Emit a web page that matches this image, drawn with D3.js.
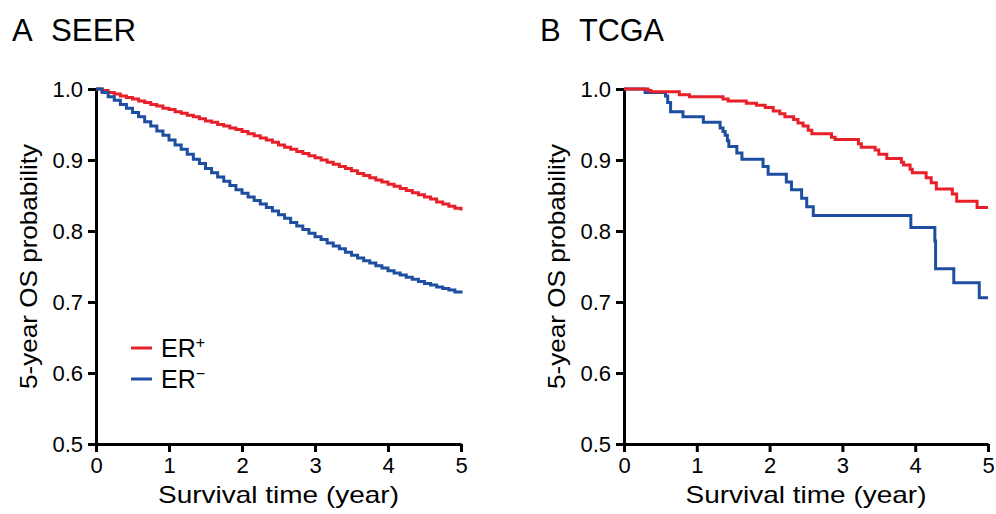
<!DOCTYPE html>
<html>
<head>
<meta charset="utf-8">
<script src="https://cdn.jsdelivr.net/npm/d3@7"></script>
<style>
  body { margin: 0; background: #fff; }
  svg text { font-family: "Liberation Sans", Arial, sans-serif; fill: #000; }
</style>
</head>
<body>
<svg id="chart" width="996" height="514"></svg>
<script>
// SEER: monthly survival estimates, month 0..60
const seerMonths = d3.range(0, 61).map(m => m / 12);
const seerPos = [
  1.000, 0.998, 0.995, 0.993, 0.990, 0.988, 0.986, 0.983, 0.981, 0.978, 0.976, 0.973, 0.971,
  0.968, 0.966, 0.963, 0.961, 0.958, 0.955, 0.953, 0.950, 0.948, 0.945, 0.943, 0.940,
  0.937, 0.934, 0.931, 0.928, 0.925, 0.921, 0.918, 0.915, 0.912, 0.909, 0.906, 0.903,
  0.900, 0.897, 0.894, 0.891, 0.888, 0.885, 0.881, 0.878, 0.875, 0.872, 0.869, 0.866,
  0.863, 0.860, 0.857, 0.854, 0.851, 0.848, 0.845, 0.841, 0.838, 0.835, 0.832, 0.829
];
const seerNeg = [
  1.000, 0.995, 0.989, 0.984, 0.978, 0.973, 0.967, 0.961, 0.954, 0.948, 0.941, 0.935, 0.928,
  0.921, 0.915, 0.908, 0.901, 0.895, 0.888, 0.882, 0.876, 0.870, 0.864, 0.858, 0.853,
  0.848, 0.843, 0.838, 0.833, 0.828, 0.823, 0.818, 0.812, 0.807, 0.802, 0.797, 0.792,
  0.788, 0.783, 0.779, 0.775, 0.770, 0.766, 0.762, 0.758, 0.755, 0.751, 0.748, 0.744,
  0.741, 0.738, 0.735, 0.732, 0.729, 0.726, 0.724, 0.721, 0.719, 0.717, 0.714, 0.712
];

// TCGA: Kaplan-Meier step times (years) and survival after each step
const tcgaPosTimes = [0, 0.33, 0.37, 0.76, 0.90, 1.36, 1.43, 1.68, 1.82, 1.94, 2.05, 2.14, 2.21, 2.33,
  2.39, 2.46, 2.53, 2.58, 2.85, 2.90, 3.22, 3.26, 3.45, 3.50, 3.61, 3.81, 3.84, 3.93, 3.96,
  4.15, 4.22, 4.29, 4.51, 4.57, 4.85, 5.0];
const tcgaPosSurv = [1.000, 0.998, 0.996, 0.992, 0.989, 0.986, 0.983, 0.980, 0.977, 0.974, 0.969, 0.965, 0.961, 0.957,
  0.952, 0.948, 0.942, 0.937, 0.932, 0.929, 0.923, 0.918, 0.914, 0.908, 0.902, 0.897, 0.893, 0.887, 0.882,
  0.875, 0.868, 0.859, 0.852, 0.842, 0.833, 0.833];
const tcgaNegTimes = [0, 0.29, 0.57, 0.60, 0.64, 0.81, 1.09, 1.32, 1.36, 1.39, 1.42, 1.44, 1.55, 1.62,
  1.91, 1.98, 2.23, 2.30, 2.44, 2.51, 2.60, 3.94, 4.27, 4.28, 4.53, 4.88, 5.0];
const tcgaNegSurv = [1.000, 0.995, 0.990, 0.981, 0.968, 0.961, 0.953, 0.945, 0.940, 0.935, 0.927, 0.919, 0.910, 0.901,
  0.891, 0.880, 0.869, 0.858, 0.846, 0.834, 0.822, 0.805, 0.786, 0.747, 0.727, 0.706, 0.706];

const xTicks = [0, 1, 2, 3, 4, 5];
const yTicks = [0.5, 0.6, 0.7, 0.8, 0.9, 1.0];
const colPos = "#e8202a";
const colNeg = "#1d4ea0";

const svg = d3.select("#chart");

let drawPanel = (left, right, letter, name, series, showLegend) => {
  const top = 89, bottom = 444;
  const x = d3.scaleLinear().domain([0, 5]).range([left, right]);
  const y = d3.scaleLinear().domain([0.5, 1.0]).range([bottom, top]);

  // axes
  const xAxis = svg.append("g")
    .attr("transform", `translate(0,${bottom})`)
    .call(d3.axisBottom(x).tickValues(xTicks).tickSize(8).tickSizeOuter(0).tickPadding(4).tickFormat(d3.format("d")));
  const yAxis = svg.append("g")
    .attr("transform", `translate(${left},0)`)
    .call(d3.axisLeft(y).tickValues(yTicks).tickSize(8).tickSizeOuter(0).tickPadding(5).tickFormat(d3.format(".1f")));

  [xAxis, yAxis].forEach(a => {
    a.select(".domain").attr("stroke", "#000").attr("stroke-width", 3);
    a.selectAll(".tick line").attr("stroke", "#000").attr("stroke-width", 3);
    a.selectAll(".tick text").style("font-size", "22px").attr("fill", "#000");
  });
  xAxis.selectAll(".tick text").attr("dy", "0.75em");

  // curves
  const line = d3.line()
    .x(d => x(d[0]))
    .y(d => y(d[1]))
    .curve(d3.curveStepAfter);

  series.forEach(s => {
    svg.append("path")
      .datum(s.points)
      .attr("fill", "none")
      .attr("stroke", s.color)
      .attr("stroke-width", 3)
      .attr("d", line);
  });

  // panel title
  svg.append("text")
    .attr("x", left - 84)
    .attr("y", 41)
    .style("font-size", "31px")
    .text(letter);
  svg.append("text")
    .attr("x", left - 45)
    .attr("y", 41)
    .attr("textLength", 85)
    .attr("lengthAdjust", "spacingAndGlyphs")
    .style("font-size", "31px")
    .text(name);

  // axis titles
  svg.append("text")
    .attr("x", (left + right) / 2)
    .attr("y", 503)
    .attr("text-anchor", "middle")
    .attr("textLength", 241)
    .attr("lengthAdjust", "spacingAndGlyphs")
    .style("font-size", "24px")
    .text("Survival time (year)");
  svg.append("text")
    .attr("transform", `translate(${left - 59},${(top + bottom) / 2}) rotate(-90)`)
    .attr("text-anchor", "middle")
    .attr("textLength", 245)
    .attr("lengthAdjust", "spacingAndGlyphs")
    .style("font-size", "24px")
    .text("5-year OS probability");

  if (showLegend) {
    const lg = svg.append("g");
    series.forEach((s, i) => {
      const ly = 348 + i * 31;
      lg.append("line")
        .attr("x1", left + 35).attr("x2", left + 56)
        .attr("y1", ly).attr("y2", ly)
        .attr("stroke", s.color).attr("stroke-width", 3);
      const t = lg.append("text")
        .attr("x", left + 65)
        .attr("y", ly + 9)
        .style("font-size", "25px");
      t.append("tspan").text("ER");
      t.append("tspan").attr("dy", -9).style("font-size", "16px").text(s.sign);
    });
  }
};

const seerPts = vals => seerMonths.map((m, i) => [m, vals[i]]);
const zipPts = (ts, vs) => ts.map((t, i) => [t, vs[i]]);

drawPanel(96, 461, "A", "SEER", [
  { color: colPos, sign: "+", points: seerPts(seerPos) },
  { color: colNeg, sign: "\u2212", points: seerPts(seerNeg) }
], true);

drawPanel(624, 988, "B", "TCGA", [
  { color: colNeg, sign: "\u2212", points: zipPts(tcgaNegTimes, tcgaNegSurv) },
  { color: colPos, sign: "+", points: zipPts(tcgaPosTimes, tcgaPosSurv) }
], false);
</script>
</body>
</html>
